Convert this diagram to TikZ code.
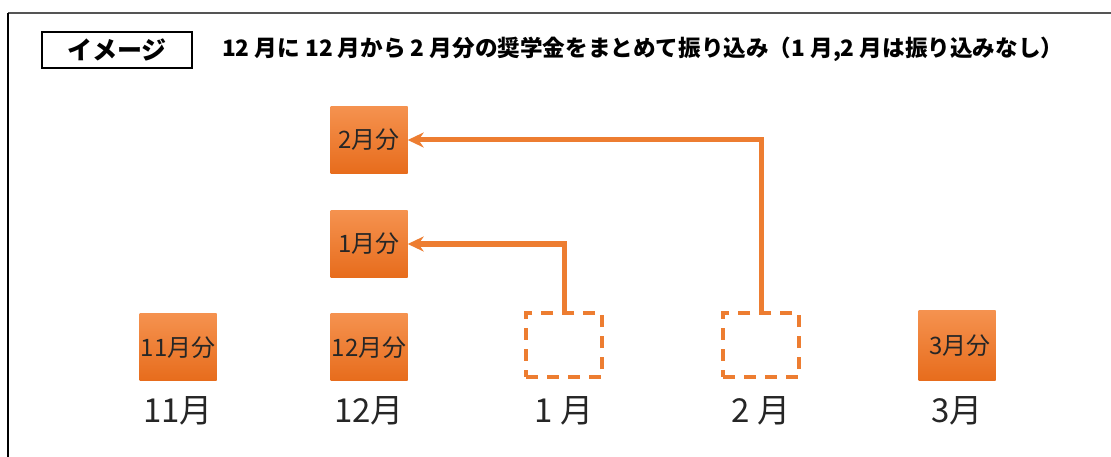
\documentclass[tikz,border=0pt]{standalone}
\usepackage{fontspec}
\newfontfamily\cjk{Noto Sans CJK JP}
\usepackage{xcolor}
\definecolor{paytop}{HTML}{F5924F}
\definecolor{paybot}{HTML}{E76C1C}
\definecolor{sendorange}{HTML}{ED7D31}
\definecolor{framegray}{HTML}{555555}
\usetikzlibrary{arrows.meta,positioning}
\tikzset{
  paybox/.style={top color=paytop,bottom color=paybot,minimum width=77pt,minimum height=67pt,inner sep=0pt,anchor=south,font=\cjk\fontsize{24}{26}\selectfont,text=black!85},
  emptybox/.style={draw=sendorange,line width=4pt,dash pattern=on 12pt off 9pt,minimum width=76pt,minimum height=64pt,anchor=south},
  monthlabel/.style={font=\cjk\fontsize{33}{36}\selectfont,text=black!85,inner sep=0pt},
  sendarrow/.style={-{Stealth[length=16pt,width=15pt]},line width=5pt,sendorange}
}

\begin{document}
\begin{tikzpicture}[x=1pt,y=-1pt,node distance=16pt]
\useasboundingbox (0,0) rectangle (1111,457);
\fill[white] (0,0) rectangle (1111,457);
% frame
\draw[framegray,line width=2pt] (8,13) -- (1111,13);
\draw[black,line width=2pt] (8,13) -- (8,457);
% heading
\node[draw,line width=1.3pt,minimum width=150pt,minimum height=36pt,inner sep=0pt,font=\cjk\bfseries\fontsize{25}{28}\selectfont] (head) at (117,50) {イメージ};
\node[anchor=west,inner sep=0pt,font=\cjk\bfseries\fontsize{22.6}{26}\selectfont] (title) at (222,49) {12 月に 12 月から 2 月分の奨学金をまとめて振り込み（1 月,2 月は振り込みなし）};
% months
\node[paybox] (p11) at (178,381) {11月分};
\node[paybox] (p12) at (369,381) {12月分};
\node[emptybox] (e1) at (564,379) {};
\node[emptybox] (e2) at (761,379) {};
\node[paybox,minimum height=70pt] (p3) at (957,381) {\hspace*{6pt}3月分};
% paid in december
\node[paybox,anchor=center] (p1) at (369,244) {1月分};
\node[paybox,anchor=center] (p2) at (369,140) {2月分};
% labels
\node[monthlabel,below=15pt of p11] (l11) {11月};
\node[monthlabel,below=15pt of p12] (l12) {12月};
\node[monthlabel,below=17pt of e1] (l1) {1 月};
\node[monthlabel,below=17pt of e2] (l2) {2 月};
\node[monthlabel,below=15pt of p3] (l3) {3月};
% transfers
\draw[sendarrow] (e1.north) |- (p1.east);
\draw[sendarrow] (e2.north) |- (p2.east);
\end{tikzpicture}
\end{document}
